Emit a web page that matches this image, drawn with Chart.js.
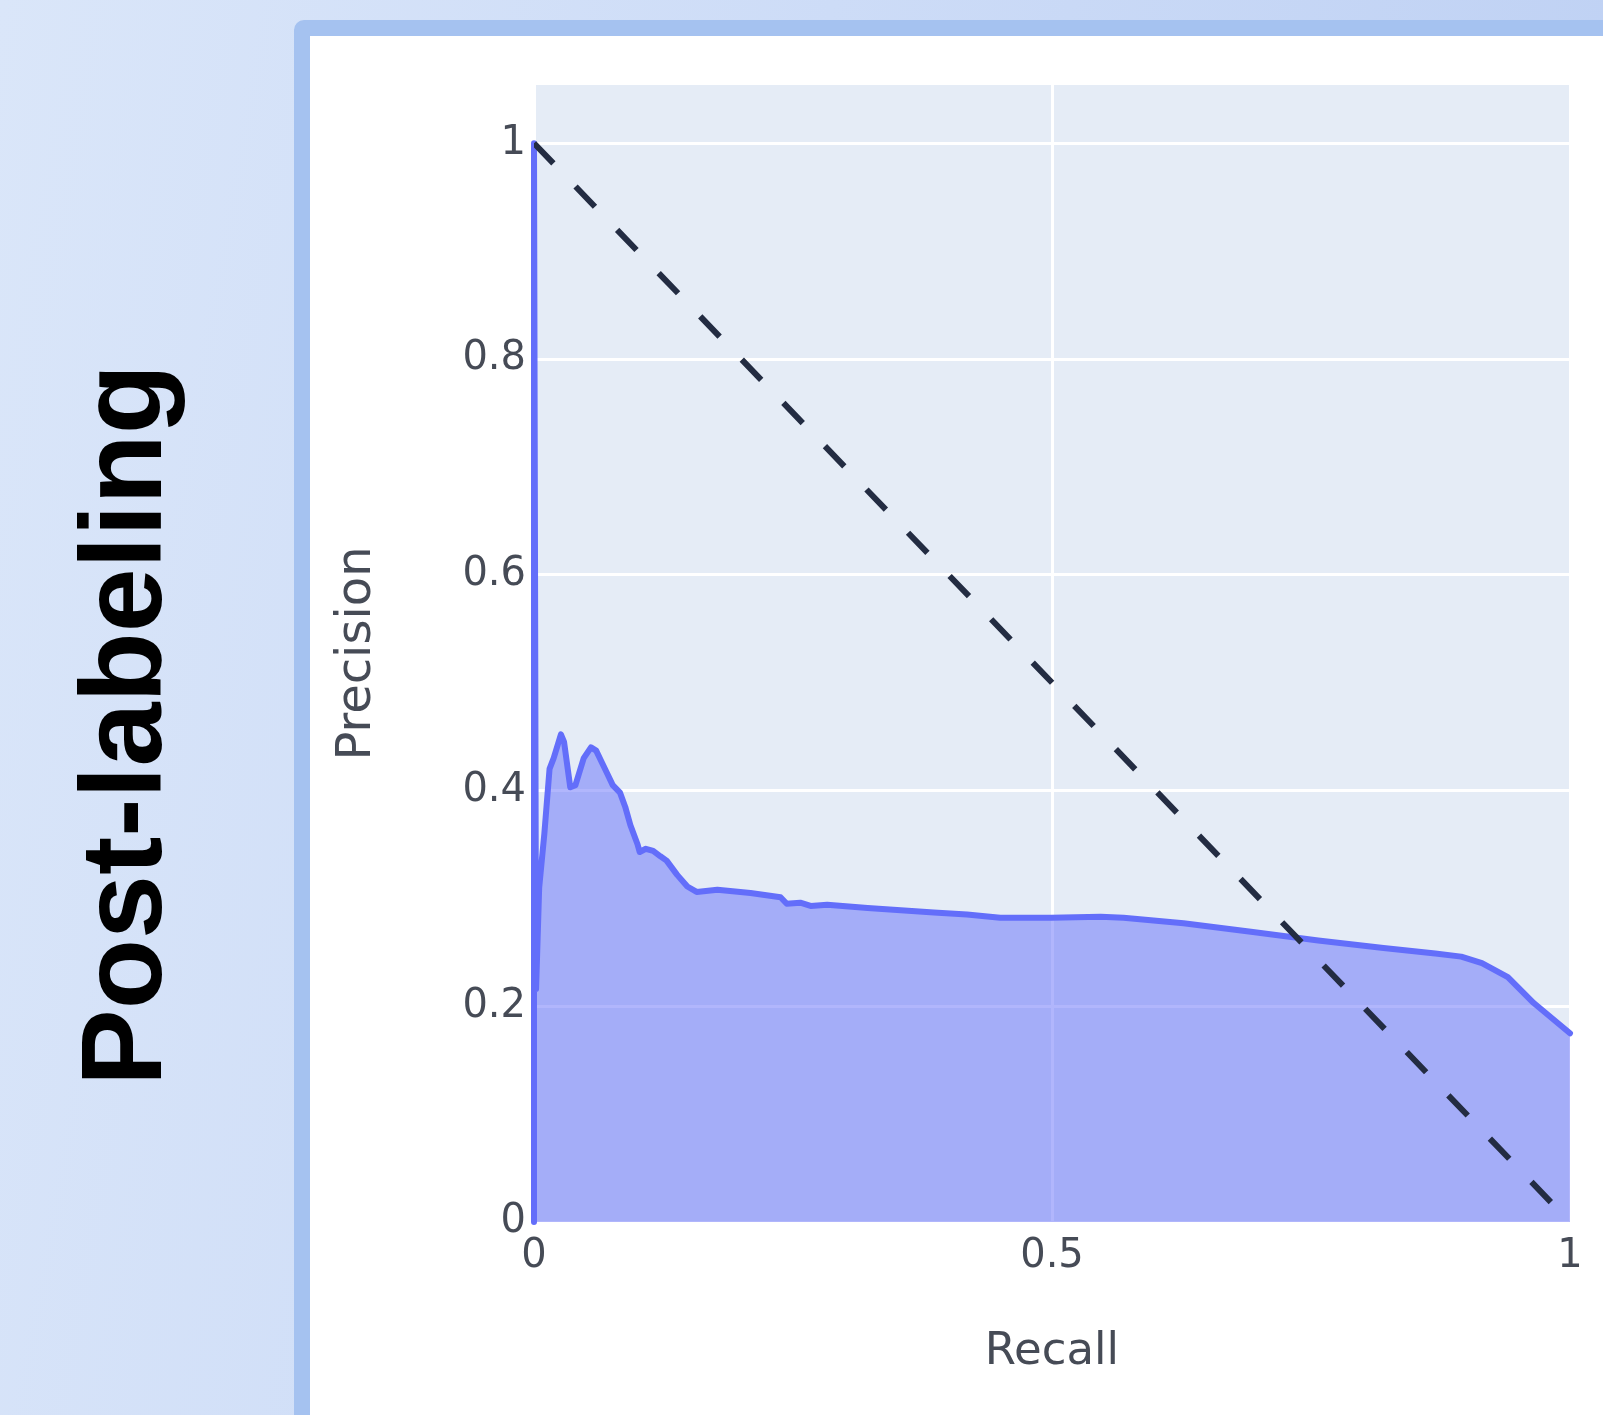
<!DOCTYPE html>
<html>
<head>
<meta charset="utf-8">
<script src="https://cdn.jsdelivr.net/npm/chart.js@4/dist/chart.umd.min.js"></script>
<style>
  html, body { margin: 0; padding: 0; }
  body {
    width: 1603px; height: 1415px; overflow: hidden; position: relative;
    background: linear-gradient(100deg, #dae6f9 0%, #cddcf7 45%, #bccff3 100%);
  }
  .row-label {
    position: absolute; left: 121px; top: 725px;
    transform: translate(-50%, -50%) rotate(-90deg);
    font-family: "Liberation Sans", Arial, sans-serif; font-weight: bold;
    font-size: 115px; color: #000; white-space: nowrap; line-height: 1;
  }
  .card {
    position: absolute; left: 294px; top: 20px; width: 1400px; height: 1500px;
    background: #fff; border: 16px solid #a5c2f0; border-radius: 10px;
  }
  #chart { position: absolute; left: 310px; top: 36px; }
</style>
</head>
<body>
<div class="row-label">Post-labeling</div>
<div class="card"></div>
<canvas id="chart" width="1293" height="1379"></canvas>
<script>
// Precision-recall curve samples
const recall = [
  0, 0, 0.002, 0.005, 0.007, 0.010, 0.015, 0.019, 0.026, 0.029,
  0.035, 0.040, 0.048, 0.055, 0.060, 0.066, 0.071, 0.076, 0.083, 0.088,
  0.093, 0.100, 0.102, 0.108, 0.115, 0.122, 0.128, 0.138, 0.148, 0.157,
  0.177, 0.209, 0.238, 0.244, 0.257, 0.267, 0.283, 0.322, 0.386, 0.418,
  0.450, 0.499, 0.547, 0.569, 0.627, 0.692, 0.757, 0.820, 0.870, 0.895,
  0.915, 0.940, 0.965, 1.0
];
const precision = [
  0, 1.0, 0.216, 0.31, 0.33, 0.36, 0.42, 0.43, 0.452, 0.445,
  0.403, 0.405, 0.43, 0.44, 0.437, 0.425, 0.415, 0.405, 0.398, 0.385,
  0.368, 0.350, 0.343, 0.346, 0.344, 0.339, 0.335, 0.322, 0.311, 0.306,
  0.308, 0.305, 0.301, 0.295, 0.296, 0.293, 0.294, 0.291, 0.287, 0.285,
  0.282, 0.282, 0.283, 0.282, 0.277, 0.269, 0.261, 0.254, 0.249, 0.246,
  0.240, 0.227, 0.203, 0.175
];
// Random-classifier reference diagonal
const baselineRecall = [0, 1];
const baselinePrecision = [1, 0];

// Axis ticks
const xTicks = [0, 0.5, 1];
const yTicks = [0, 0.2, 0.4, 0.6, 0.8, 1];
const xTitle = 'Recall';
const yTitle = 'Precision';

const toPoints = (xs, ys) => xs.map((x, i) => ({ x: x, y: ys[i] }));

const plotBackground = {
  id: 'plotBackground',
  beforeDraw(chart) {
    const { ctx, chartArea: a } = chart;
    ctx.save();
    ctx.fillStyle = '#e5ecf6';
    ctx.fillRect(a.left, a.top, a.right - a.left, a.bottom - a.top);
    ctx.restore();
  }
};

const tickFont = { family: '"DejaVu Sans", Verdana, sans-serif', size: 40 };
const tickColor = '#464b56';

new Chart(document.getElementById('chart'), {
  type: 'line',
  data: {
    datasets: [
      {
        data: toPoints(baselineRecall, baselinePrecision),
        borderColor: '#232c42',
        borderWidth: 6,
        borderDash: [28, 32],
        pointRadius: 0,
        fill: false,
        order: 0
      },
      {
        data: toPoints(recall, precision),
        borderColor: '#636efa',
        borderWidth: 6,
        backgroundColor: 'rgba(99,110,250,0.5)',
        pointRadius: 0,
        tension: 0,
        borderJoinStyle: 'round',
        borderCapStyle: 'round',
        fill: 'origin',
        clip: 4,
        order: 1
      }
    ]
  },
  options: {
    responsive: false,
    animation: false,
    devicePixelRatio: 1,
    layout: { padding: { left: 0, right: 33, top: 49, bottom: 0 } },
    plugins: { legend: { display: false }, tooltip: { enabled: false } },
    scales: {
      x: {
        type: 'linear', min: 0, max: 1,
        afterBuildTicks: s => { s.ticks = xTicks.map(v => ({ value: v })); },
        afterFit: s => { s.height = 193; },
        ticks: { font: tickFont, color: tickColor, padding: 11, maxRotation: 0,
                 callback: v => String(v) },
        grid: { color: '#ffffff', lineWidth: 3, drawTicks: false },
        border: { display: false },
        title: { display: true, text: xTitle, color: tickColor,
                 font: { family: '"DejaVu Sans", Verdana, sans-serif', size: 45 },
                 padding: { top: 0, bottom: 36 } }
      },
      y: {
        type: 'linear', min: 0, max: 1.054,
        afterBuildTicks: s => { s.ticks = yTicks.map(v => ({ value: v })); },
        afterFit: s => { s.width = 224; },
        ticks: { font: tickFont, color: tickColor, padding: 8,
                 callback: v => String(v) },
        grid: { color: '#ffffff', lineWidth: 3, drawTicks: false },
        border: { display: false },
        title: { display: true, text: yTitle, color: tickColor,
                 font: { family: '"DejaVu Sans", Verdana, sans-serif', size: 48 },
                 padding: { top: 19, bottom: 0 } }
      }
    }
  },
  plugins: [plotBackground]
});
</script>
</body>
</html>
